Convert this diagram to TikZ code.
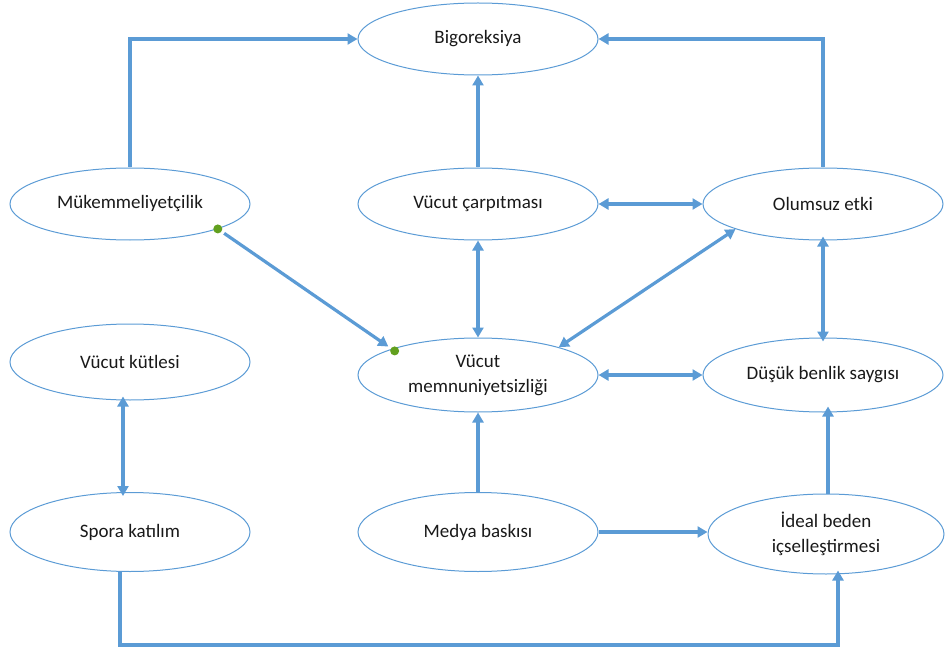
\documentclass[tikz,border=0pt]{standalone}
\usepackage{fontspec}
\setmainfont{Carlito}
\usetikzlibrary{shapes.geometric,arrows.meta,calc}
\definecolor{lineblue}{HTML}{5B9BD5}
\definecolor{dotgreen}{HTML}{62A01E}
\begin{document}
\begin{tikzpicture}[x=1pt,y=-1pt,
  oval/.style={ellipse,draw=lineblue,line width=1pt,minimum width=240pt,minimum height=72pt,inner sep=0pt,align=center,font=\fontsize{19}{25}\selectfont,text=black!90},
  conn/.style={draw=lineblue,line width=3.2pt,-{Triangle[length=10pt,width=11pt]}},
  bconn/.style={draw=lineblue,line width=3.2pt,{Triangle[length=10pt,width=11pt]}-{Triangle[length=10pt,width=11pt]}},
  gdot/.style={circle,fill=dotgreen,inner sep=0pt,minimum size=9pt}]
\useasboundingbox (0,0) rectangle (946,650);
\node[oval] (B) at (478,39) {Bigoreksiya};
\node[oval] (M) at (130,204) {Mükemmeliyetçilik};
\node[oval] (C) at (478,204) {Vücut çarpıtması};
\node[oval] (O) at (823,204) {Olumsuz etki};
\node[oval,minimum height=76pt] (K) at (130,362) {Vücut kütlesi};
\node[oval,minimum height=74pt] (V) at (478,375) {Vücut\\memnuniyetsizliği};
\node[oval,minimum height=74pt] (D) at (823,375) {Düşük benlik saygısı};
\node[oval,minimum height=79pt] (S) at (130,532) {Spora katılım};
\node[oval,minimum height=79pt] (Y) at (478,532) {Medya baskısı};
\node[oval,minimum width=236pt,minimum height=80pt] (I) at (826,534) {İdeal beden\\içselleştirmesi};
% connectors
\draw[conn] (M.north) |- (B.west);
\draw[conn] (O.north) |- (B.east);
\draw[conn] (C.north) -- (B.south);
\draw[bconn] (C.east) -- (O.west);
\draw[bconn] (C.south) -- (V.north);
\draw[bconn] (O.196) -- (V.19);
\draw[bconn] (V.east) -- (D.west);
\draw[bconn] ([yshift=4pt]O.south) -- ([yshift=-4pt]D.north);
\draw[bconn] ([xshift=-7pt,yshift=4pt]K.south) -- ([xshift=-7pt,yshift=-4pt]S.north);
\draw[conn] (Y.north) -- (V.south);
\draw[conn] (Y.east) -- (I.west |- Y.east);
\draw[conn] ([xshift=2pt]I.north) -- ([xshift=5pt,yshift=6pt]D.south);
\coordinate (s1) at ([xshift=-10pt]S.south);
\coordinate (i1) at ([xshift=12pt,yshift=4pt]I.south);
\draw[conn] (s1) -- ++(0,73) -| (i1);
\node[gdot] (g1) at ([xshift=3pt,yshift=1pt]M.-17) {};
\node[gdot] (g2) at ([yshift=-3pt]V.162) {};
\draw[conn,shorten >=3pt,shorten <=3pt] (g1) -- (g2);
\end{tikzpicture}
\end{document}
